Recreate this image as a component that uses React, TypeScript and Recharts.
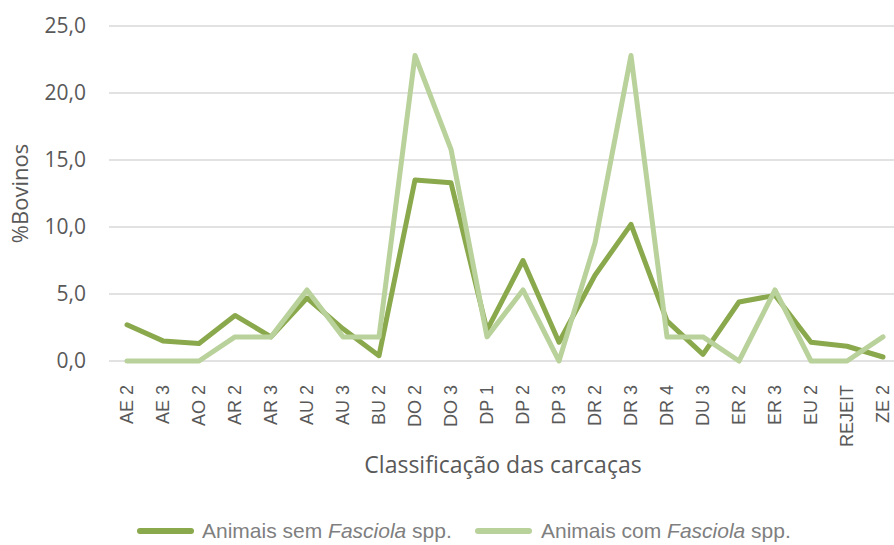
import React from 'react';
import { LineChart, Line, XAxis, YAxis, CartesianGrid, Legend } from 'recharts';

const categories = ['AE 2','AE 3','AO 2','AR 2','AR 3','AU 2','AU 3','BU 2','DO 2','DO 3','DP 1','DP 2','DP 3','DR 2','DR 3','DR 4','DU 3','ER 2','ER 3','EU 2','REJEIT','ZE 2'];
const semFasciola = [2.7,1.5,1.3,3.4,1.8,4.7,2.4,0.4,13.5,13.3,2.3,7.5,1.4,6.4,10.2,3.0,0.5,4.4,4.9,1.4,1.1,0.3];
const comFasciola = [0,0,0,1.8,1.8,5.3,1.8,1.8,22.8,15.8,1.8,5.3,0,8.8,22.8,1.8,1.8,0,5.3,0,0,1.8];
const yTicks = [0,5,10,15,20,25];

const data = categories.map((c, i) => ({ cat: c, sem: semFasciola[i], com: comFasciola[i] }));

const DARK = '#8AA84C';
const LIGHT = '#B9D19A';
const TEXT = '#595959';
const FONT = "'Open Sans', sans-serif";

const XTick = (props: any) => {
  const { x, y, payload } = props;
  return (
    <text transform={`translate(${x},${y + 16}) rotate(-90)`} textAnchor="end" dy="0.35em"
      fill={TEXT} fontSize={18} fontFamily="'Liberation Sans', Arial, sans-serif">
      {payload.value}
    </text>
  );
};

const YTick = (props: any) => {
  const { y, payload } = props;
  return (
    <text x={86} y={y} dy="0.35em" textAnchor="end" fill={TEXT} fontSize={21} fontFamily={FONT}>
      {payload.value.toFixed(1).replace('.', ',')}
    </text>
  );
};

const LegendContent = () => (
  <div style={{ position: 'relative', height: 29, width: 894 }}>
    {[{ name: 'sem', color: DARK, left: 137, tl: 202 }, { name: 'com', color: LIGHT, left: 475, tl: 541 }].map((it) => (
      <React.Fragment key={it.name}>
        <div style={{ position: 'absolute', left: it.left, top: 12, width: 57, height: 6, background: it.color, borderRadius: 3 }} />
        <div style={{ position: 'absolute', left: it.tl, top: 2, fontFamily: "'Liberation Sans', Arial, sans-serif", fontSize: 21, color: '#7F7F7F', whiteSpace: 'nowrap', lineHeight: '26px' }}>
          Animais {it.name} <i>Fasciola</i> spp.
        </div>
      </React.Fragment>
    ))}
  </div>
);

export default function App() {
  return (
    <div style={{ position: 'absolute', left: 0, top: 0, width: 894, height: 545, overflow: 'hidden', background: '#fff' }}>
      <LineChart width={902} height={545} data={data} margin={{ top: 26, right: 1, left: 0, bottom: 0 }}>
        <CartesianGrid horizontal vertical={false} stroke="#D9D9D9" strokeWidth={1.5} />
        <XAxis dataKey="cat" interval={0} height={155} axisLine={false} tickLine={false} tick={<XTick />}
          padding={{ left: 18, right: 18 }}
          label={() => (
            <text x={503} y={473} textAnchor="middle" fill={TEXT} fontSize={23} fontFamily={FONT}>
              Classificação das carcaças
            </text>
          )} />
        <YAxis domain={[0, 25]} ticks={yTicks} width={109} axisLine={false} tickLine={false} tick={<YTick />}
          label={(p: any) => {
            const vb = p.viewBox;
            const cy = vb.y + vb.height / 2;
            return (
              <text transform={`translate(20,${cy}) rotate(-90)`} textAnchor="middle" dy="0.35em" fill={TEXT} fontSize={22} fontFamily={FONT}>
                %Bovinos
              </text>
            );
          }} />
        <Legend verticalAlign="bottom" content={<LegendContent />} wrapperStyle={{ height: 29 }} />
        <Line type="linear" dataKey="sem" stroke={DARK} strokeWidth={5} dot={false} isAnimationActive={false} strokeLinejoin="round" strokeLinecap="round" />
        <Line type="linear" dataKey="com" stroke={LIGHT} strokeWidth={5} dot={false} isAnimationActive={false} strokeLinejoin="round" strokeLinecap="round" />
      </LineChart>
    </div>
  );
}
